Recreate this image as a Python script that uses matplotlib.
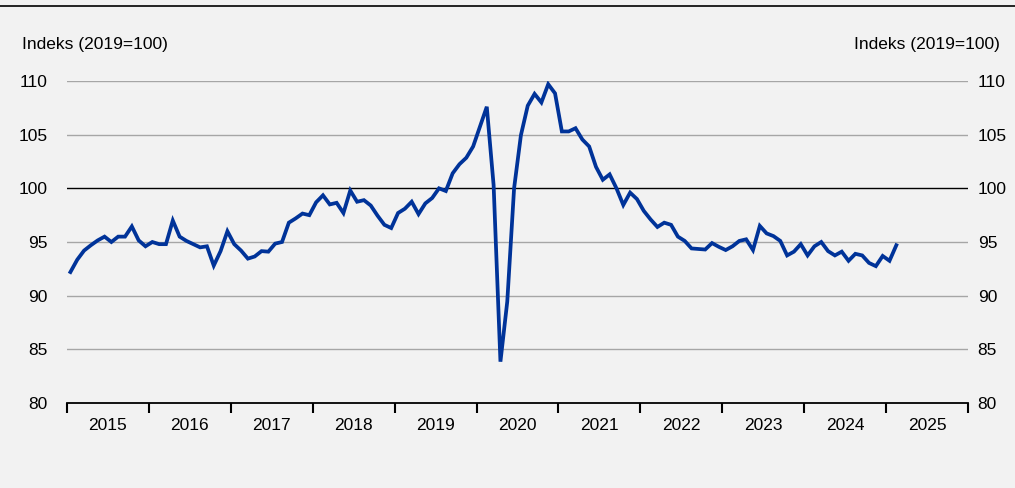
import matplotlib
matplotlib.use("Agg")
import matplotlib.pyplot as plt
import numpy as np

plt.rcParams['font.family'] = ['Liberation Sans', 'DejaVu Sans']

# Monthly index values, Jan 2015 - Feb 2025 (2019=100)
start_year = 2015
values = [
    92.2, 93.35, 94.2, 94.7, 95.15, 95.5, 95.0, 95.5, 95.5, 96.45, 95.15, 94.6,      # 2015
    95.0, 94.8, 94.8, 97.0, 95.5, 95.1, 94.8, 94.5, 94.6, 92.8, 94.15, 96.0,         # 2016
    94.8, 94.2, 93.45, 93.65, 94.15, 94.1, 94.85, 95.0, 96.8, 97.2, 97.65, 97.5,     # 2017
    98.7, 99.35, 98.5, 98.65, 97.7, 99.8, 98.75, 98.9, 98.4, 97.45, 96.6, 96.3,      # 2018
    97.7, 98.1, 98.75, 97.6, 98.6, 99.1, 100.0, 99.75, 101.4, 102.25, 102.85, 103.9, # 2019
    105.75, 107.6, 100.3, 83.85, 89.45, 100.0, 104.95, 107.7, 108.8, 108.0, 109.7, 108.85,  # 2020
    105.3, 105.3, 105.6, 104.55, 103.9, 102.0, 100.8, 101.3, 100.0, 98.45, 99.6, 99.0,      # 2021
    97.9, 97.1, 96.4, 96.8, 96.6, 95.5, 95.1, 94.4, 94.35, 94.3, 94.9, 94.55,        # 2022
    94.25, 94.6, 95.1, 95.25, 94.25, 96.5, 95.8, 95.55, 95.1, 93.75, 94.1, 94.8,     # 2023
    93.75, 94.6, 95.0, 94.15, 93.75, 94.1, 93.25, 93.9, 93.75, 93.05, 92.75, 93.7,   # 2024
    93.25, 94.7,                                                                     # 2025
]
years = list(range(2015, 2026))
y_ticks = [80, 85, 90, 95, 100, 105, 110]
ylabel_text = "Indeks (2019=100)"

bg = "#f2f2f2"
line_col = "#003399"
grid_col = "#a6a6a6"

fig = plt.figure(figsize=(10.15, 4.88), dpi=100, facecolor=bg)
ax = fig.add_axes([67/1015, 1-403/488, (968-67)/1015, (403-81)/488])
ax.set_facecolor(bg)

x = start_year + (np.arange(len(values)) + 0.5) / 12.0
ax.set_xlim(years[0], years[-1] + 1)
ax.set_ylim(y_ticks[0], y_ticks[-1])

for t in y_ticks[1:]:
    if t == 100:
        ax.axhline(t, color="black", lw=1.0, zorder=1)
    else:
        ax.axhline(t, color=grid_col, lw=1.0, zorder=1)

ax.plot(x, values, color=line_col, lw=2.7, solid_joinstyle="miter", zorder=3)

for s in ["top", "left", "right"]:
    ax.spines[s].set_visible(False)
ax.spines["bottom"].set_color("black")
ax.spines["bottom"].set_linewidth(1.3)

fs = 12.5
ax.set_xticks(list(range(years[0], years[-1] + 2)))
ax.set_xticklabels([])
ax.set_xticks([yy + 0.5 for yy in years], minor=True)
ax.set_xticklabels([str(yy) for yy in years], minor=True, fontsize=fs)
ax.tick_params(axis="x", which="major", direction="out", length=7, width=1.5, color="black")
ax.tick_params(axis="x", which="minor", length=0, pad=11)

ax.set_yticks(y_ticks)
ax.set_yticklabels([str(t) for t in y_ticks], fontsize=fs)
ax.tick_params(axis="y", which="both", length=0, pad=14, labelleft=True, labelright=False)

ax2 = ax.twinx()
ax2.set_ylim(ax.get_ylim())
ax2.set_yticks(y_ticks)
ax2.set_yticklabels([str(t) for t in y_ticks], fontsize=fs)
ax2.tick_params(axis="y", length=0, pad=7)
for s in ["top", "left", "right", "bottom"]:
    ax2.spines[s].set_visible(False)

fig.text(22/1015, 1-45/488, ylabel_text, ha="left", va="center", fontsize=fs)
fig.text(1000/1015, 1-45/488, ylabel_text, ha="right", va="center", fontsize=fs)

fig.add_artist(plt.Line2D([0, 1], [1-6/488, 1-6/488], color="black", lw=1.2, transform=fig.transFigure))

fig.savefig("out.png", dpi=100, facecolor=bg)
